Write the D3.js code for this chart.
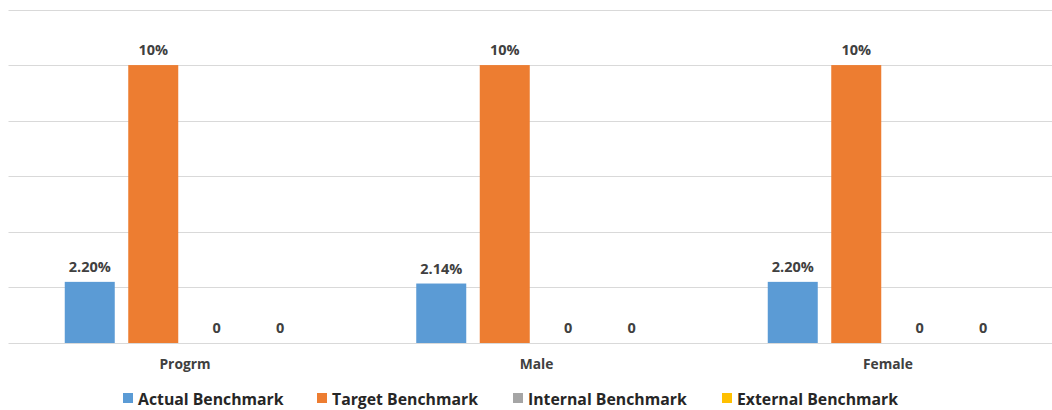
<!DOCTYPE html>
<html><head><meta charset="utf-8">
<script src="https://cdn.jsdelivr.net/npm/d3@7"></script>
<style>body{margin:0;background:#fff}svg{display:block}</style>
</head><body>
<svg id="c" width="1052" height="410"></svg>
<script>
const categories = ["Progrm", "Male", "Female"];
const seriesNames = ["Actual Benchmark", "Target Benchmark", "Internal Benchmark", "External Benchmark"];
const actual = [2.20, 2.14, 2.20];
const target = [10, 10, 10];
const internal = [0, 0, 0];
const external = [0, 0, 0];
const labelsActual = ["2.20%", "2.14%", "2.20%"];
const labelsTarget = ["10%", "10%", "10%"];
const labelsInternal = ["0", "0", "0"];
const labelsExternal = ["0", "0", "0"];
const yTicks = [0, 2, 4, 6, 8, 10, 12];
const colors = ["#5B9BD5", "#ED7D31", "#A5A5A5", "#FFC000"];

const values = [actual, target, internal, external];
const labels = [labelsActual, labelsTarget, labelsInternal, labelsExternal];

const svg = d3.select("#c");
const font = "'Open Sans', 'Liberation Sans', sans-serif";

const y = d3.scaleLinear().domain([0, 12]).range([343, 9.5]);
const x0 = d3.scaleBand().domain(categories).range([9.25, 1063.75]);
const x1 = d3.scaleBand().domain(seriesNames).range([0, x0.bandwidth()])
  .paddingInner(0.2126).paddingOuter(0.874);

// gridlines
svg.append("g").selectAll("line").data(yTicks).join("line")
  .attr("x1", 8.5).attr("x2", 1052)
  .attr("y1", d => Math.round(y(d)) + 0.5).attr("y2", d => Math.round(y(d)) + 0.5)
  .attr("stroke", "#D9D9D9").attr("stroke-width", 1);

const groups = svg.append("g").selectAll("g").data(categories).join("g")
  .attr("transform", c => `translate(${x0(c)},0)`);

groups.each(function(c, ci) {
  const g = d3.select(this);
  seriesNames.forEach((s, si) => {
    const v = values[si][ci];
    g.append("rect")
      .attr("x", x1(s)).attr("width", x1.bandwidth())
      .attr("y", y(v)).attr("height", y(0) - y(v))
      .attr("fill", colors[si]);
    g.append("text")
      .attr("x", x1(s) + x1.bandwidth() / 2)
      .attr("y", y(v) - 10)
      .attr("text-anchor", "middle")
      .attr("font-family", font).attr("font-weight", "bold").attr("font-size", 14.5)
      .attr("fill", "#404040")
      .text(labels[si][ci]);
  });
  g.append("text")
    .attr("x", x0.bandwidth() / 2).attr("y", 369)
    .attr("text-anchor", "middle")
    .attr("font-family", font).attr("font-weight", "bold").attr("font-size", 13.8)
    .attr("fill", "#404040")
    .text(c);
});

// legend
const legendX = [123, 317, 513, 722];
const lg = svg.append("g").selectAll("g").data(seriesNames).join("g")
  .attr("transform", (d, i) => `translate(${legendX[i]},393)`);
lg.append("rect").attr("x", 0).attr("y", 0).attr("width", 10).attr("height", 10)
  .attr("fill", (d, i) => colors[i]);
lg.append("text").attr("x", 15).attr("y", 12)
  .attr("font-family", font).attr("font-weight", "bold").attr("font-size", 15.8)
  .attr("fill", "#262626")
  .text(d => d);
</script>
</body></html>
